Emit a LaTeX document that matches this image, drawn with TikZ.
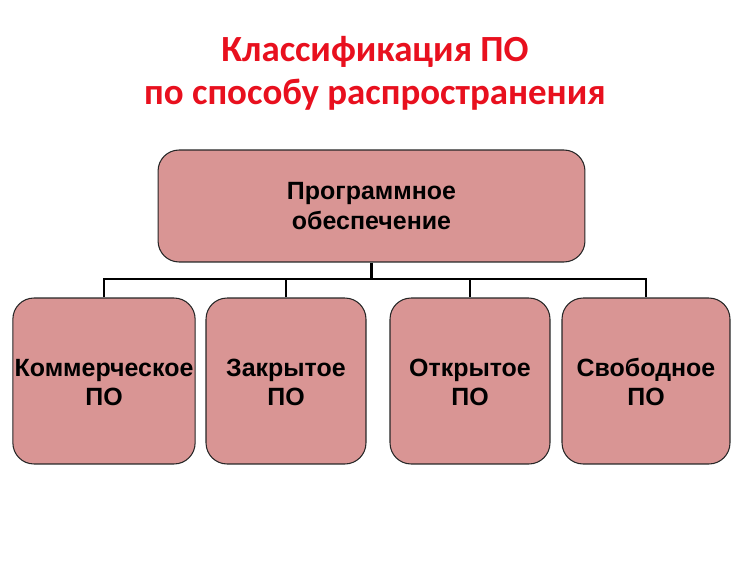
\documentclass[tikz,border=0pt]{standalone}
\usepackage{fontspec}
\setmainfont{Liberation Sans}
\newfontfamily\titlefont{Carlito}
\usepackage{xcolor}
\usetikzlibrary{positioning}
\definecolor{boxfill}{HTML}{D99594}
\definecolor{titlered}{HTML}{E8101E}
\tikzset{
  kind/.style={rectangle,rounded corners=12pt,draw=black!85,line width=.6pt,
    fill=boxfill,align=center,inner xsep=1pt,
    font=\fontsize{14.2}{16.8}\selectfont\bfseries},
  link/.style={line width=1.3pt,draw=black}}

\begin{document}
\begin{tikzpicture}[x=0.02cm,y=-0.02cm,
  root/.style={kind,minimum width=8.54cm,minimum height=2.24cm},
  leaf/.style={kind,minimum height=3.32cm},
  heading/.style={align=center,text=titlered,
    font=\titlefont\fontsize{21}{24.5}\selectfont\bfseries}]

  \useasboundingbox (0,0) rectangle (750,561);

  \node[heading] (title) at (375,73)
    {Классификация ПО\\по способу распространения};

  \node[root] (po) at (371.5,206) {Программное\\ обеспечение};

  \node[leaf,minimum width=3.6cm] (comm) at (104,381) {\strut Коммерческое\\ПО};
  \node[leaf,minimum width=3.2cm] (closed) at (286,381) {\strut Закрытое\\ПО};
  \node[leaf,minimum width=3.2cm] (open) at (470,381) {\strut Открытое\\ПО};
  \node[leaf,minimum width=3.36cm] (free) at (646,381) {\strut Свободное\\ПО};

  \coordinate (bar) at (375,279);

  \draw[link] (po.south) -- (po.south |- bar);
  \draw[link] (comm.north) |- (bar) -| (free.north);
  \draw[link] (closed.north) -- (closed.north |- bar);
  \draw[link] (open.north) -- (open.north |- bar);
\end{tikzpicture}
\end{document}
